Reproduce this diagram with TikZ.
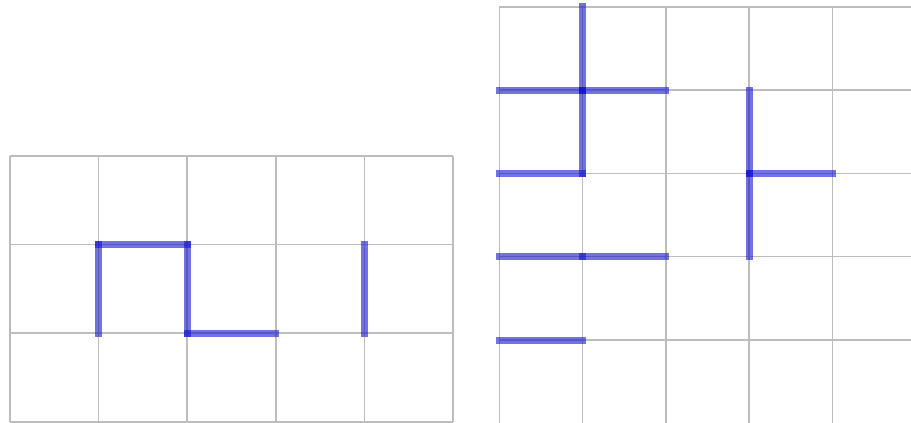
\documentclass[tikz,border=0pt]{standalone}
\begin{document}
\begin{tikzpicture}[x=1pt,y=-1pt,
  gridline/.style={draw=black!26, line width=1.6pt},
  seg/.style={draw={rgb,255:red,20;green,20;blue,205}, draw opacity=0.6, line width=7pt, line cap=rect}]
\useasboundingbox (0,0) rectangle (911,423);
\clip (0,0) rectangle (911,423);
% left grid
\begin{scope}[shift={(10,156)}, x=88.6pt, y=-88.6pt]
  \foreach \i in {0,...,5} \draw[gridline] (\i,0) -- (\i,3);
  \foreach \j in {0,...,3} \draw[gridline] (0,\j) -- (5,\j);
  \draw[seg] (1,1) -- (1,2);
  \draw[seg] (1,1) -- (2,1);
  \draw[seg] (2,1) -- (2,2);
  \draw[seg] (2,2) -- (3,2);
  \draw[seg] (4,1) -- (4,2);
\end{scope}
% right grid
\begin{scope}[shift={(499.3,6.7)}, x=83.33pt, y=-83.33pt]
  \foreach \i in {0,...,6} \draw[gridline] (\i,0) -- (\i,5);
  \foreach \j in {0,...,5} \draw[gridline] (0,\j) -- (6,\j);
  \draw[seg] (1,0) -- (1,1);
  \draw[seg] (1,1) -- (1,2);
  \draw[seg] (0,1) -- (1,1);
  \draw[seg] (1,1) -- (2,1);
  \draw[seg] (0,2) -- (1,2);
  \draw[seg] (3,1) -- (3,2);
  \draw[seg] (3,2) -- (3,3);
  \draw[seg] (3,2) -- (4,2);
  \draw[seg] (0,3) -- (1,3);
  \draw[seg] (1,3) -- (2,3);
  \draw[seg] (0,4) -- (1,4);
\end{scope}
\end{tikzpicture}
\end{document}
